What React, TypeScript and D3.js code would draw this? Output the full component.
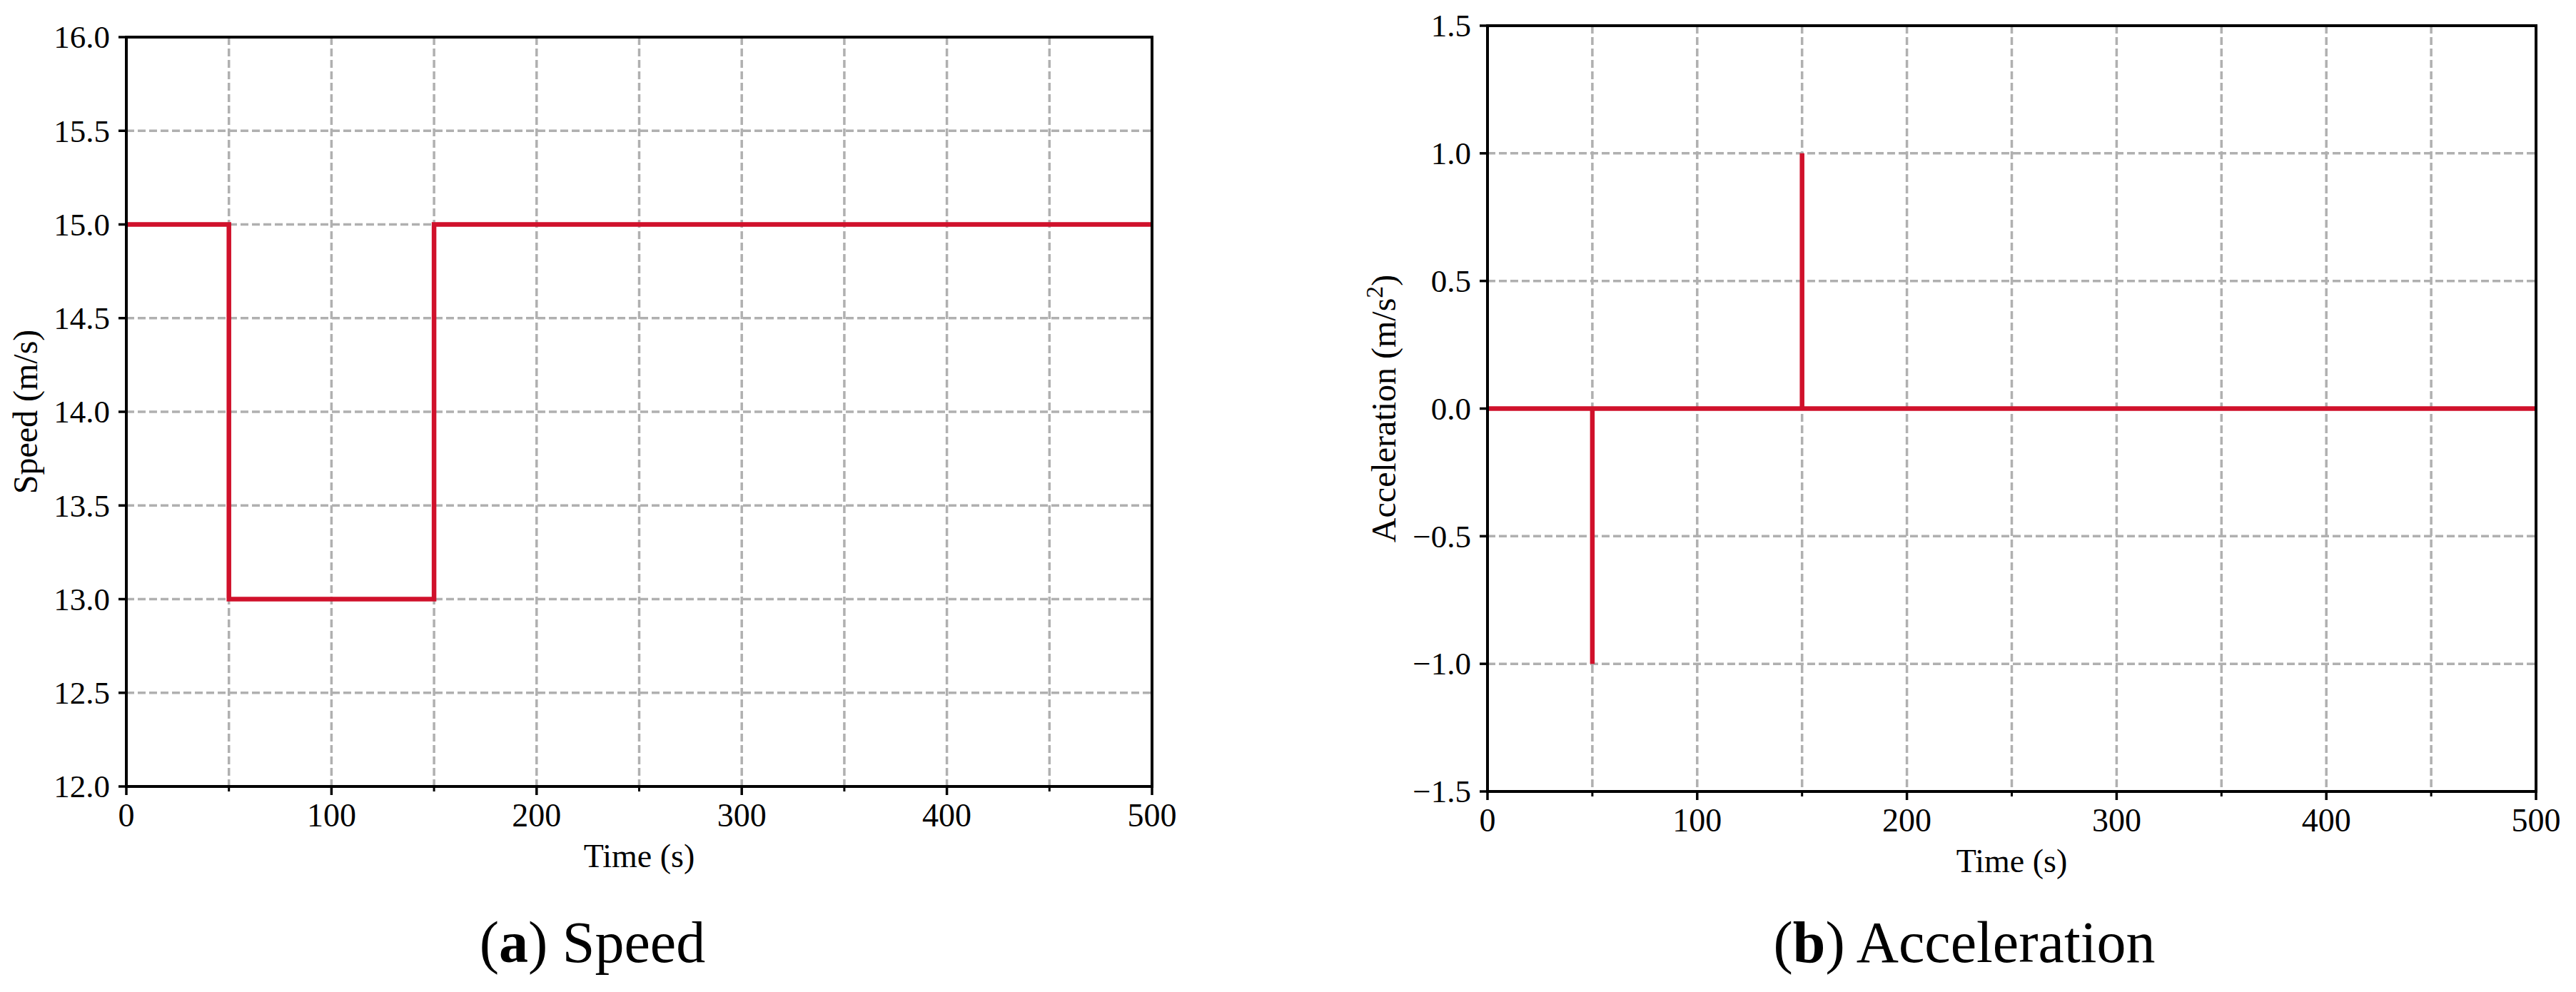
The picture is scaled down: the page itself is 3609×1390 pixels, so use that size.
import React from "react";
import * as d3 from "d3";

// ---- data ----
const speedTime = [0, 50, 50, 150, 150, 500];
const speedValues = [15, 15, 13, 13, 15, 15];
const accTime = [0, 50, 50, 50, 150, 150, 150, 500];
const accValues = [0, 0, -1, 0, 0, 1, 0, 0];
const xTicksMajor = [0, 100, 200, 300, 400, 500];
const xTicksMinor = [50, 150, 250, 350, 450];
const speedTicks = [12.0, 12.5, 13.0, 13.5, 14.0, 14.5, 15.0, 15.5, 16.0];
const accTicks = [-1.5, -1.0, -0.5, 0.0, 0.5, 1.0, 1.5];

const FONT = "'Liberation Serif', 'Times New Roman', serif";
const RED = "#d0112b";
const GRID = "#b0b0b0";

type PanelProps = {
  left: number; right: number; top: number; bottom: number;
  times: number[]; values: number[]; yDomain: [number, number]; yTicks: number[];
  yLabel: React.ReactNode; yLabelX: number; captionX: number;
  captionLetter: string; captionText: string;
};

function fmtY(v: number) {
  const s = v.toFixed(1);
  return v < 0 ? "\u2212" + s.slice(1) : s;
}

function Panel(p: PanelProps) {
  const x = d3.scaleLinear().domain([0, 500]).range([p.left, p.right]);
  const y = d3.scaleLinear().domain(p.yDomain).range([p.bottom, p.top]);
  const pts: [number, number][] = p.times.map((t, i) => [t, p.values[i]]);
  const line = d3.line<[number, number]>().x(d => x(d[0])).y(d => y(d[1]));
  const allX = [...xTicksMajor, ...xTicksMinor];
  return (
    <g>
      {allX.filter(t => t > 0 && t < 500).map(t => (
        <line key={"gx" + t} x1={x(t)} x2={x(t)} y1={p.top} y2={p.bottom}
          stroke={GRID} strokeWidth={3.5} strokeDasharray="11,5" />
      ))}
      {p.yTicks.filter(v => v > p.yDomain[0] && v < p.yDomain[1]).map(v => (
        <line key={"gy" + v} x1={p.left} x2={p.right} y1={y(v)} y2={y(v)}
          stroke={GRID} strokeWidth={3.5} strokeDasharray="11,5" />
      ))}
      {xTicksMajor.map(t => (
        <line key={"tx" + t} x1={x(t)} x2={x(t)} y1={p.bottom} y2={p.bottom + 12}
          stroke="#000" strokeWidth={3.5} />
      ))}
      {xTicksMinor.map(t => (
        <line key={"tm" + t} x1={x(t)} x2={x(t)} y1={p.bottom} y2={p.bottom + 7}
          stroke="#000" strokeWidth={3} />
      ))}
      {p.yTicks.map(v => (
        <line key={"ty" + v} x1={p.left - 11} x2={p.left} y1={y(v)} y2={y(v)}
          stroke="#000" strokeWidth={3.5} />
      ))}
      {xTicksMajor.map(t => (
        <text key={"lx" + t} x={x(t)} y={p.bottom + 56} textAnchor="middle"
          fontFamily={FONT} fontSize={46}>{t}</text>
      ))}
      {p.yTicks.map(v => (
        <text key={"ly" + v} x={p.left - 23} y={y(v)} dy="0.34em" textAnchor="end"
          fontFamily={FONT} fontSize={45}>{fmtY(v)}</text>
      ))}
      <path d={line(pts) || ""} fill="none" stroke={RED} strokeWidth={6.5}
        strokeLinejoin="miter" strokeLinecap="butt" />
      <rect x={p.left} y={p.top} width={p.right - p.left} height={p.bottom - p.top}
        fill="none" stroke="#000" strokeWidth={4} />
      <text x={(p.left + p.right) / 2} y={p.bottom + 113} textAnchor="middle"
        fontFamily={FONT} fontSize={46}>Time (s)</text>
      <text transform={`translate(${p.yLabelX},${(p.top + p.bottom) / 2}) rotate(-90)`}
        textAnchor="middle" fontFamily={FONT} fontSize={48}>{p.yLabel}</text>
      <text x={p.captionX} y={1348} textAnchor="middle" fontFamily={FONT} fontSize={82}>
        (<tspan fontWeight="bold">{p.captionLetter}</tspan>) {p.captionText}
      </text>
    </g>
  );
}

export default function App() {
  return (
    <svg width={3609} height={1390} style={{ position: "absolute", left: 0, top: 0, background: "#fff" }}>
      <rect x={0} y={0} width={3609} height={1390} fill="#fff" />
      <Panel left={177} right={1614} top={52} bottom={1102}
        times={speedTime} values={speedValues} yDomain={[12, 16]} yTicks={speedTicks}
        yLabel="Speed (m/s)" yLabelX={52} captionX={830}
        captionLetter="a" captionText="Speed" />
      <Panel left={2084} right={3553} top={36} bottom={1109}
        times={accTime} values={accValues} yDomain={[-1.5, 1.5]} yTicks={accTicks}
        yLabel={<>Acceleration (m/s<tspan baselineShift="super" fontSize="70%">2</tspan>)</>}
        yLabelX={1955} captionX={2752}
        captionLetter="b" captionText="Acceleration" />
    </svg>
  );
}
